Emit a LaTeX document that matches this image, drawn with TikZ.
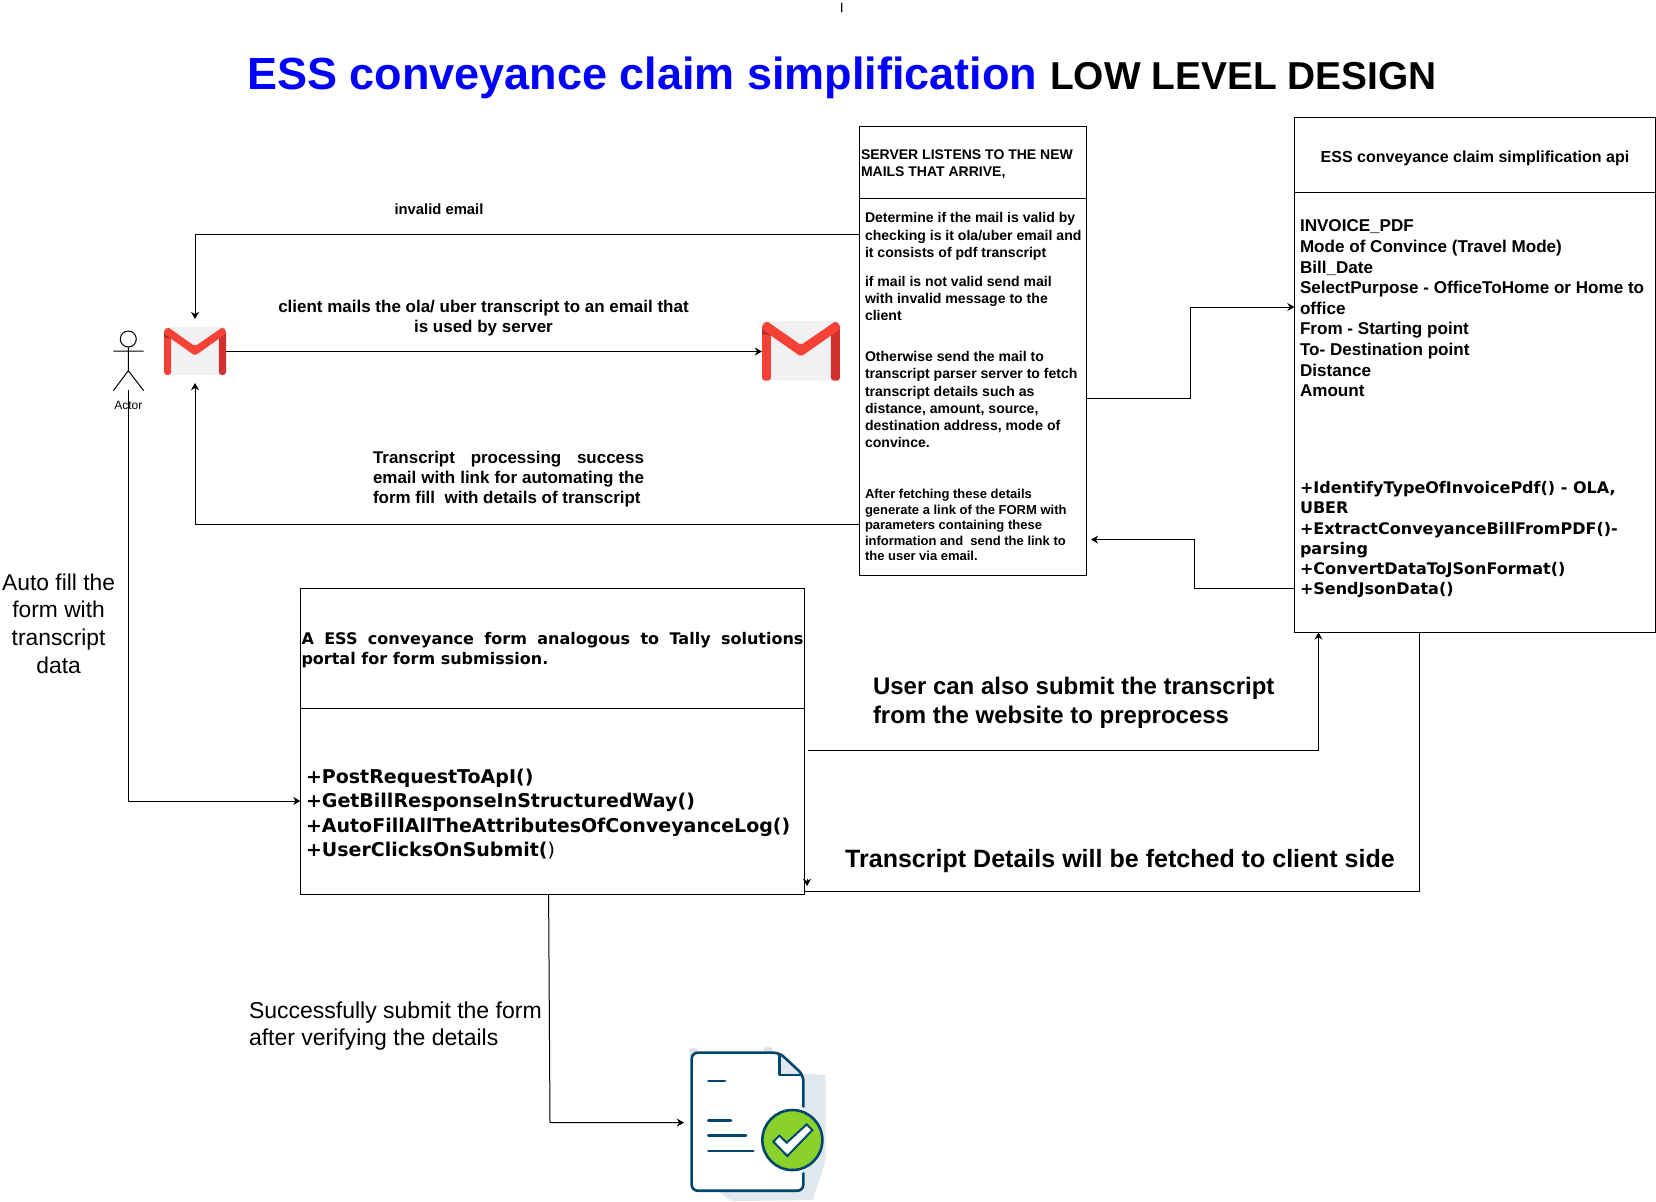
\documentclass[tikz,border=0pt]{standalone}
\usepackage{fontspec}
\setmainfont{Liberation Sans}
\newfontfamily\dejavu{DejaVu Sans}
\usetikzlibrary{arrows.meta, positioning}

\definecolor{gmailred}{HTML}{F44336}
\definecolor{gmaildark}{HTML}{D32F2F}
\definecolor{gmailpaper}{HTML}{F1F1F3}
\definecolor{docblue}{HTML}{00476F}
\definecolor{docshade}{HTML}{E0E8EE}
\definecolor{docgreen}{HTML}{8AD12B}
\newcommand{\pxfont}[2]{\fontsize{#1}{#2}\selectfont}

\tikzset{
  box/.style={draw,rectangle,inner sep=0pt,outer sep=0pt,anchor=north west,line width=0.5pt},
  lbl/.style={inner sep=0pt,outer sep=0pt,anchor=north west,align=left},
  link/.style={line width=0.5pt,-{Stealth[length=3.6pt,width=4pt]}},
  spot/.style={inner sep=0pt,outer sep=0pt,minimum width=#1},
  pics/gmail/.style={code={
    \fill[gmailpaper,rounded corners=1.5pt] (0,0) rectangle (234,179);
    \fill[gmailred,rounded corners=1.5pt] (0,10) rectangle (27,179);
    \fill[gmaildark,rounded corners=1.5pt] (207,10) rectangle (234,179);
    \fill[gmailred,rounded corners=1pt] (0,12) -- (14,0) -- (117,72) -- (222,0) -- (234,12) -- (234,25) -- (117,107) -- (0,25) -- cycle;
    \fill[gmaildark!85!black] (0,25) -- (27,44) -- (0,38) -- cycle;
  }}
}

\begin{document}
\begin{tikzpicture}[x=0.5pt,y=-0.5pt]
\useasboundingbox (0,0) rectangle (1656,1201);

% Title
\node[lbl,anchor=base west,font=\pxfont{22.5}{26}\bfseries,text=blue] (title) at (247,89.5) {ESS conveyance claim simplification};
\node[lbl,anchor=base west,font=\pxfont{19.45}{23}\bfseries] (subtitle) at (1050,89.5) {LOW LEVEL DESIGN};
\node[font=\pxfont{5}{6}\bfseries,inner sep=0pt] (tick) at (841.7,7.5) {|};

% Actor
\draw[line width=0.5pt] (128.3,339) circle[radius=8];
\draw[line width=0.5pt] (128.3,347) -- (128.3,370.7) (113.3,351) -- (143.7,351) (113.3,390.7) -- (128.3,370.7) -- (143.7,390.7);
\node[font=\pxfont{6}{7},inner sep=0pt] (actor) at (128.3,405) {Actor};
\coordinate (actorfoot) at (128.3,390);

% Mail icons
\node[spot=31pt,minimum height=24pt,anchor=north west] (gmailleft) at (164,327) {};
\node[spot=39pt,minimum height=30pt,anchor=north west] (gmailright) at (762,321) {};
\pic[xscale=0.265,yscale=0.268] at (164,327) {gmail};
\pic[xscale=0.333,yscale=0.333] at (762,321) {gmail};

% Server box
\node[box,minimum width=113.5pt,minimum height=35.75pt] (serverhead) at (859.5,126.5) {};
\node[box,minimum width=113.5pt,minimum height=188.7pt] (serverbody) at (859.5,198) {};
\node[lbl,font=\pxfont{7}{8.5}\bfseries] (servertitle) at (861,149.5) {SERVER LISTENS TO THE NEW\\MAILS THAT ARRIVE,};
\node[lbl,font=\pxfont{7.03}{8.7}\bfseries] (servercheck) at (865,212.5) {Determine if the mail is valid by\\checking is it ola/uber email and\\it consists of pdf transcript};
\node[lbl,font=\pxfont{7.03}{8.7}\bfseries] (serverinvalid) at (865,276) {if mail is not valid send mail\\with invalid message to the\\client};
\node[lbl,font=\pxfont{7.03}{8.6}\bfseries] (serverparse) at (865,351.5) {Otherwise send the mail to\\transcript parser server to fetch\\transcript details such as\\distance, amount, source,\\destination address, mode of\\convince.};
\node[lbl,font=\pxfont{6.5}{7.8}\bfseries] (serverlink) at (865,489) {After fetching these details\\generate a link of the FORM with\\parameters containing these\\information and\ \ send the link to\\the user via email.};

% Api box
\node[box,minimum width=180.5pt,minimum height=37.5pt] (apihead) at (1294.5,117) {};
\node[box,minimum width=180.5pt,minimum height=220.2pt] (apibody) at (1294.5,192) {};
\node[font=\pxfont{8}{10}\bfseries,inner sep=0pt] (apititle) at (1475,158) {ESS conveyance claim simplification api};
\node[lbl,font=\pxfont{8.54}{10.3}\bfseries] (apifields) at (1300,220) {INVOICE\_PDF\\Mode of Convince (Travel Mode)\\Bill\_Date\\SelectPurpose - OfficeToHome or Home to\\office\\From - Starting point\\To- Destination point\\Distance\\Amount};
\node[lbl,font=\pxfont{8}{10.1}\bfseries\dejavu] (apimethods) at (1300,481.5) {+IdentifyTypeOfInvoicePdf() - OLA,\\UBER\\+ExtractConveyanceBillFromPDF()-\\parsing\\+ConvertDataToJSonFormat()\\+SendJsonData()};

% Form box
\node[box,minimum width=252pt,minimum height=60pt] (formhead) at (300.4,588.3) {};
\node[box,minimum width=252pt,minimum height=93pt] (formbody) at (300.4,708.6) {};
\node[lbl,text width=251pt,align=justify,font=\pxfont{8}{10.3}\bfseries\dejavu] (formtitle) at (301.5,632) {A ESS conveyance form analogous to Tally solutions \mbox{portal} for form submission.};
\node[lbl,font=\pxfont{9.5}{12.2}\dejavu] (formmethods) at (306,769) {\textbf{+PostRequestToApI()}\\\textbf{+GetBillResponseInStructuredWay()}\\\textbf{+AutoFillAllTheAttributesOfConveyanceLog()}\\\textbf{+UserClicksOnSubmit(})};

% Approved document
\begin{scope}[shift={(660,1030)},x=0.1667pt,y=-0.1667pt]
  \fill[docshade] (430,130) -- (497,135) -- (497,390) -- (459,510) -- (215,513) -- (170,480) -- (430,480) -- cycle;
  \fill[gray!25] (88,55) rectangle (112,80) (313,52) rectangle (337,77) (310,252) rectangle (335,275);
  \fill[white] (95,68) -- (358,68) -- (430,135) -- (430,482) -- (95,482) -- cycle;
  \fill[docshade] (358,68) -- (430,135) -- (358,135) -- cycle;
  \draw[docblue,line width=1.3pt,line cap=round,line join=round,rounded corners=3pt] (430,230) -- (430,135) -- (358,68) -- (95,68) -- (95,482) -- (430,482) -- (430,430);
  \draw[docblue,line width=1.3pt,line join=round] (358,68) -- (358,135) -- (430,135);
  \draw[docblue,line width=1.3pt,line cap=round] (145,153) -- (195,153) (145,271) -- (213,271) (145,317) -- (258,317) (145,363) -- (280,363);
  \draw[docblue,fill=docgreen,line width=1.3pt] (397,330) circle[radius=90];
  \draw[docblue,fill=white,line width=1pt,line join=miter] (340,335) -- (358,317) -- (380,338) -- (440,283) -- (457,300) -- (382,378) -- cycle;
\end{scope}
\node[spot=60pt,minimum height=69pt,anchor=north west] (doc) at (684,1053) {};

% Links
\draw[link,shorten >=4pt] (serverbody.west |- 0,234) -| (gmailleft.north);
\draw[link] (gmailleft.east |- 0,351.5) -- (gmailright.west |- 0,351.5);
\draw[link,shorten >=4pt] (serverbody.west |- 0,524.3) -| (gmailleft.south);
\draw[link] (actorfoot) |- (formbody.west |- 0,801);
\draw[link] (serverbody.east |- 0,398) -- (1190,398) |- (apibody.west |- 0,307);
\draw[link,shorten >=2.25pt] (apibody.west |- 0,588) -- (1194,588) |- (serverbody.east |- 0,539.6);
\draw[link,shorten <=1.75pt] (formbody.east |- 0,750.5) -| (apibody.south -| 1318.5,0);
\draw[line width=0.5pt] (apibody.south -| 1419.5,0) |- (formbody.south east |- 0,891);
\draw[link] (807,879) -- (807,886);
\draw[link] (formbody.south -| 548.6,0) -- (550,1122.6) -- (doc.west |- 0,1122.6);

% Link labels
\node[font=\pxfont{7.4}{9}\bfseries,inner sep=0pt] (invalidlbl) at (439,209) {invalid email};
\node[font=\pxfont{8.49}{10}\bfseries,align=center,inner sep=0pt] (maillbl) at (483.5,318) {client mails the ola/ uber transcript to an email that\\is used by server};
\node[lbl,text width=135.5pt,align=justify,font=\pxfont{8.48}{10}\bfseries] (successlbl) at (373,451) {Transcript processing success email with link for automating the form fill\ \ with details of transcript};
\node[lbl,font=\pxfont{12}{14.7}\bfseries] (websitelbl) at (873,677) {User can also submit the transcript\\from the website to preprocess};
\node[font=\pxfont{12.52}{15}\bfseries,inner sep=0pt] (fetchlbl) at (1120,860.6) {Transcript Details will be fetched to client side};
\node[font=\pxfont{11.4}{13.8},align=center,inner sep=0pt] (autolbl) at (58.6,623.5) {Auto fill the\\form with\\transcript\\data};
\node[lbl,font=\pxfont{11.5}{13.2}] (submitlbl) at (249,1002) {Successfully submit the form\\after verifying the details};

\end{tikzpicture}
\end{document}
